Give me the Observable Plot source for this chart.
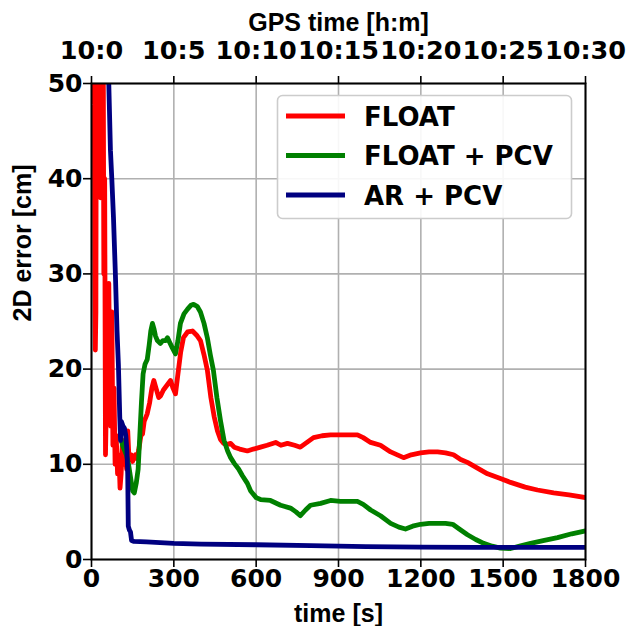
<!DOCTYPE html>
<html>
<head>
<meta charset="utf-8">
<script src="https://cdn.jsdelivr.net/npm/d3@7"></script>
<script src="https://cdn.jsdelivr.net/npm/@observablehq/plot@0.6"></script>
<style>
  html, body { margin: 0; padding: 0; background: #fff; }
  #wrap { position: relative; width: 626px; height: 626px; }
  #legend { position: absolute; left: 0; top: 0; }
</style>
</head>
<body>
<div id="wrap"></div>
<script>
// ---- data ----
const xTicks = [0, 300, 600, 900, 1200, 1500, 1800];
const topTickLabels = ["10:0", "10:5", "10:10", "10:15", "10:20", "10:25", "10:30"];
const yTicks = [0, 10, 20, 30, 40, 50];
const seriesNames = ["FLOAT", "FLOAT + PCV", "AR + PCV"];
const seriesColors = ["#ff0000", "#008000", "#000080"];

// FLOAT  [time s, 2D error cm]
const floatSeries = [
  [0,55],[3,62],[6,48],[9,60],[12,30],[14,22],[16,26],[18,58],[21,62],[24,40],[27,60],[30,52],
  [33,38],[36,62],[39,45],[42,62],[45,30],[48,40],[51,11],[54,16],[57,28],[60,18],[63,29],
  [66,20],[70,14],[74,26],[78,12],[82,18],[86,10],[90,13],[95,9],[100,11],[104,7.5],[108,9],
  [112,12],[116,10],[120,12.5],[124,11],[128,9.5],[132,13.5],[136,11],[140,10.5],[145,11],
  [150,10.3],[155,10.8],[160,11],[166,10.6],[172,11.5],[180,13],[186,13.2],[192,14.5],
  [203,15.3],[212,16.5],[220,18],[227,18.8],[235,18],[245,17],[252,17.2],[262,17.8],[275,18.3],
  [288,18.8],[297,18],[306,17.4],[315,19.5],[325,21.8],[335,23.3],[350,23.9],[368,24],[385,23.5],
  [397,23],[410,21.5],[422,19.9],[435,17],[447,15],[459,13.5],[470,12.6],[481,12.2],[495,12.1],
  [507,12.2],[520,11.8],[540,11.6],[568,11.4],[590,11.6],[616,11.8],[640,12],[671,12.3],[690,12],
  [714,12.2],[740,12],[761,11.8],[785,12.3],[809,12.8],[840,13],[871,13.1],[907,13.1],[940,13.1],
  [969,13.1],[990,12.8],[1017,12.3],[1053,12],[1090,11.3],[1137,10.7],[1165,11],[1199,11.2],
  [1230,11.3],[1261,11.3],[1290,11.2],[1319,11],[1345,10.5],[1370,10.2],[1400,9.7],[1443,9],
  [1490,8.5],[1527,8.1],[1580,7.6],[1625,7.3],[1684,7],[1740,6.8],[1800,6.5]
];

// FLOAT + PCV
const floatPcvSeries = [
  [105,13],[113,12],[120,11.5],[127,11],[135,10],[143,8.5],[150,7.2],[156,7],[163,8],[170,9.5],
  [176,13],[182,16.5],[188,19.5],[195,20.5],[203,21],[210,22.5],[216,24],[222,24.8],[228,24.2],
  [233,23.5],[240,23],[251,22.7],[260,23],[270,23],[277,23.3],[285,22.8],[295,22.2],[306,21.6],
  [315,23],[324,24.8],[337,25.8],[350,26.3],[362,26.7],[372,26.8],[385,26.6],[397,26],[410,24.8],
  [422,23.3],[433,21.5],[444,19.9],[457,17],[470,14.6],[483,12.5],[496,11.4],[507,10.7],
  [520,10.1],[536,9.5],[550,8.8],[568,8],[580,7.2],[600,6.5],[616,6.3],[652,6.2],[689,5.7],
  [725,5.4],[745,5],[761,4.6],[780,5.2],[798,5.7],[835,5.9],[871,6.2],[907,6.1],[969,6.1],
  [990,5.8],[1017,5.2],[1053,4.6],[1090,3.8],[1120,3.4],[1144,3.2],[1170,3.5],[1199,3.7],
  [1230,3.8],[1261,3.8],[1290,3.8],[1316,3.7],[1340,3.2],[1370,2.6],[1400,2.1],[1429,1.7],
  [1460,1.4],[1490,1.2],[1527,1.15],[1560,1.4],[1600,1.7],[1650,2],[1698,2.3],[1750,2.7],[1800,3]
];

// AR + PCV
const arPcvSeries = [
  [58,54],[63,50],[69,43],[74,40],[80,36],[87,30],[93,24],[98,20.5],[103,15],[106,12.5],
  [109,14.5],[115,14],[120,13.8],[125,13],[129,11.5],[132,9],[134,3.5],[138,3.1],[142,2.9],
  [146,2],[155,1.9],[200,1.85],[300,1.7],[400,1.62],[600,1.55],[800,1.45],[1000,1.35],
  [1200,1.3],[1400,1.28],[1600,1.27],[1800,1.27]
];

// ---- build ----
const toRows = (arr, name) => arr.map(([t, e]) => ({t, e, name}));
const allSeries = [floatSeries, floatPcvSeries, arPcvSeries];

const tickFont = "DejaVu Sans, sans-serif";
const labelFont = "Liberation Sans, Arial, sans-serif";

const lineMarks = allSeries.map((s, i) =>
  Plot.line(toRows(s, seriesNames[i]), {
    x: "t", y: "e", stroke: seriesColors[i], strokeWidth: 4.8,
    strokeLinejoin: "round", strokeLinecap: "butt", clip: true
  })
);

const chart = Plot.plot({
  width: 626,
  height: 626,
  marginLeft: 91,
  marginRight: 41,
  marginTop: 83,
  marginBottom: 67,
  style: {background: "#fff", color: "#000", fontFamily: tickFont},
  x: {domain: [0, 1800]},
  y: {domain: [0, 50]},
  marks: [
    Plot.gridX(xTicks, {stroke: "#b0b0b0", strokeOpacity: 1, strokeWidth: 1.6}),
    Plot.gridY(yTicks, {stroke: "#b0b0b0", strokeOpacity: 1, strokeWidth: 1.6}),
    ...lineMarks,
    Plot.frame({stroke: "#000", strokeWidth: 2}),
    Plot.axisX(xTicks, {
      anchor: "bottom", tickSize: 8, tickPadding: 2, stroke: "#000", strokeWidth: 1.6,
      fill: "#000", fontSize: 25, fontWeight: "bold", fontFamily: tickFont,
      tickFormat: d => String(d), label: null
    }),
    Plot.axisX(xTicks, {
      anchor: "top", tickSize: 8, tickPadding: 17, stroke: "#000", strokeWidth: 1.6,
      fill: "#000", fontSize: 25.5, fontWeight: "bold", fontFamily: tickFont,
      tickFormat: d => topTickLabels[xTicks.indexOf(d)], label: null
    }),
    Plot.axisY(yTicks, {
      anchor: "left", tickSize: 8, tickPadding: 1, stroke: "#000", strokeWidth: 1.6,
      fill: "#000", fontSize: 25, fontWeight: "bold", fontFamily: tickFont,
      tickFormat: d => String(d), label: null
    }),
    Plot.text(["time [s]"], {
      frameAnchor: "bottom", dy: 54, text: d => d, fontSize: 25, fontWeight: "bold",
      fontFamily: labelFont, fill: "#000", lineAnchor: "middle"
    }),
    Plot.text(["GPS time [h:m]"], {
      frameAnchor: "top", dy: -61, text: d => d, fontSize: 25, fontWeight: "bold",
      fontFamily: labelFont, fill: "#000", lineAnchor: "middle"
    }),
    Plot.text(["2D error [cm]"], {
      frameAnchor: "left", dx: -69, rotate: -90, text: d => d, fontSize: 25, fontWeight: "bold",
      fontFamily: labelFont, fill: "#000", lineAnchor: "middle"
    })
  ]
});

const wrap = document.getElementById("wrap");
wrap.appendChild(chart);

// ---- legend (overlay) ----
const leg = d3.select(wrap).append("svg")
  .attr("id", "legend")
  .attr("width", 626).attr("height", 626)
  .style("pointer-events", "none");
leg.append("rect")
  .attr("x", 277.5).attr("y", 95.5).attr("width", 294).attr("height", 123)
  .attr("rx", 5).attr("ry", 5)
  .attr("fill", "#fff").attr("fill-opacity", 0.9)
  .attr("stroke", "#cccccc").attr("stroke-width", 1.6);
seriesNames.forEach((name, i) => {
  const cy = 116 + i * 39.5;
  leg.append("line")
    .attr("x1", 286).attr("x2", 345).attr("y1", cy).attr("y2", cy)
    .attr("stroke", seriesColors[i]).attr("stroke-width", 4.8);
  leg.append("text")
    .attr("x", 364).attr("y", cy + 9.5)
    .attr("font-family", tickFont).attr("font-weight", "bold").attr("font-size", 26)
    .attr("fill", "#000")
    .text(name);
});
</script>
</body>
</html>
